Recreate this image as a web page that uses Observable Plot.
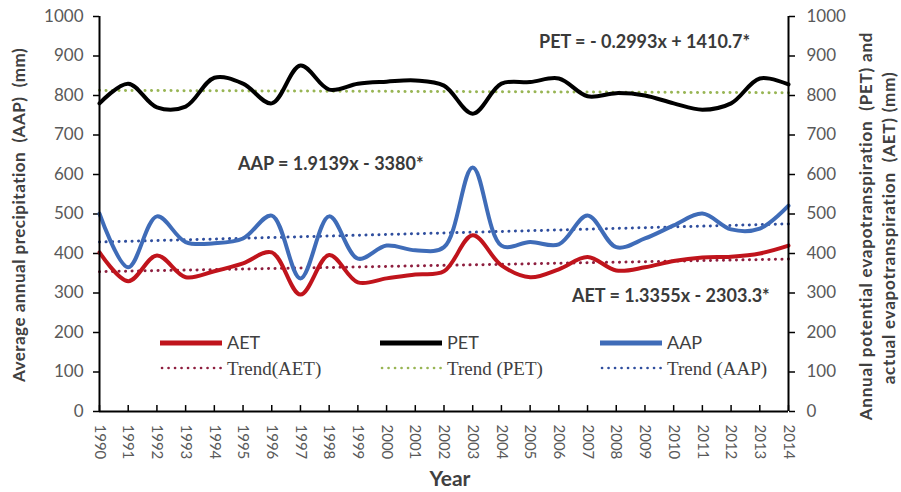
<!DOCTYPE html>
<html><head><meta charset="utf-8">
<script src="https://cdn.jsdelivr.net/npm/d3@7"></script>
<script src="https://cdn.jsdelivr.net/npm/@observablehq/plot@0.6"></script>
<style>body{margin:0;background:#fff;} svg{display:block;}</style>
</head><body><div id="chart"></div>
<script>
const years = [1990,1991,1992,1993,1994,1995,1996,1997,1998,1999,2000,2001,2002,2003,2004,2005,2006,2007,2008,2009,2010,2011,2012,2013,2014];
const pet = [780,830,770,772,845,830,780,876,815,830,835,838,825,754,830,834,843,798,806,800,780,764,780,843,828];
const aap = [501,365,494,429,426,438,496,337,494,387,420,408,416,618,420,429,423,496,416,438,471,501,461,463,521];
const aet = [403,330,395,340,355,375,403,296,396,327,337,347,355,446,370,340,360,391,357,365,381,390,392,400,420];
const trendYears = [1990, 2014];
const petTrend = [813, 807];
const aapTrend = [429, 475];
const aetTrend = [354, 386];
const yTicks = [0,100,200,300,400,500,600,700,800,900,1000];

const equations = [
  {text: "PET = - 0.2993x + 1410.7*", x: 539, y: 42},
  {text: "AAP = 1.9139x - 3380*", x: 238, y: 164},
  {text: "AET = 1.3355x - 2303.3*", x: 572, y: 296}
];
const legendItems = [
  {label: "AET", trend: "Trend(AET)", color: "#c0141c", trendColor: "#8e1f3f", x: 160},
  {label: "PET", trend: "Trend (PET)", color: "#000000", trendColor: "#98b554", x: 380},
  {label: "AAP", trend: "Trend (AAP)", color: "#3f6cb8", trendColor: "#2f4e9e", x: 600}
];

const rows = (vals) => years.map((y, i) => ({year: y, value: vals[i]}));
const trendRows = (vals) => trendYears.map((y, i) => ({year: y, value: vals[i]}));

const dotted = {strokeWidth: 3, strokeDasharray: "0.1,6.4", strokeLinecap: "round"};
const axisFont = {fontSize: 17, fill: "#595959"};

const chart = Plot.plot({
  width: 901, height: 492,
  marginLeft: 99, marginRight: 113, marginTop: 16, marginBottom: 81,
  x: {domain: [1990, 2014]},
  y: {domain: [0, 1000]},
  style: {fontFamily: "Lato, 'Open Sans', sans-serif", background: "white", color: "#595959"},
  marks: [
    Plot.axisY({anchor: "left", ticks: yTicks, tickFormat: d => String(d), tickSize: 6, tickPadding: 10, label: null, ...axisFont, stroke: "black", strokeWidth: 1.5}),
    Plot.axisY({anchor: "right", ticks: yTicks, tickFormat: d => String(d), tickSize: 6, tickPadding: 12, label: null, ...axisFont, stroke: "black", strokeWidth: 1.5}),
    Plot.axisX({ticks: years, tickFormat: d => String(d), tickRotate: 90, tickSize: 0, tickPadding: 13, label: null, fontSize: 15, fill: "#595959"}),
    Plot.ruleX(years, {x: d => d, y1: 0, y2: 15, stroke: "black", strokeWidth: 1.5}),
    Plot.line(trendRows(aetTrend), {x: "year", y: "value", stroke: "#8e1f3f", ...dotted}),
    Plot.line(trendRows(petTrend), {x: "year", y: "value", stroke: "#98b554", ...dotted}),
    Plot.line(trendRows(aapTrend), {x: "year", y: "value", stroke: "#2f4e9e", ...dotted}),
    Plot.line(rows(pet), {x: "year", y: "value", stroke: "#000000", strokeWidth: 4, curve: "catmull-rom"}),
    Plot.line(rows(aap), {x: "year", y: "value", stroke: "#3f6cb8", strokeWidth: 4, curve: "catmull-rom"}),
    Plot.line(rows(aet), {x: "year", y: "value", stroke: "#c0141c", strokeWidth: 4, curve: "catmull-rom"}),
    Plot.ruleX([1990, 2014], {stroke: "black", strokeWidth: 2}),
    Plot.ruleY([0], {stroke: "black", strokeWidth: 2})
  ]
});

const svg = d3.select(chart);
// equations
svg.append("g").attr("text-anchor", "start").selectAll("text").data(equations).join("text")
  .attr("x", d => d.x).attr("y", d => d.y).attr("dy", "0.35em")
  .attr("font-family", "Lato, sans-serif").attr("font-weight", "bold").attr("font-size", 18)
  .attr("fill", "#3a3a3a").text(d => d.text);

// legend
const lg = svg.append("g").attr("text-anchor", "start");
legendItems.forEach(d => {
  lg.append("line").attr("x1", d.x).attr("x2", d.x + 62).attr("y1", 343).attr("y2", 343)
    .attr("stroke", d.color).attr("stroke-width", 5);
  lg.append("text").attr("x", d.x + 67).attr("y", 343).attr("dy", "0.35em")
    .attr("font-family", "Lato, sans-serif").attr("font-size", 18).attr("fill", "#404040").text(d.label);
  lg.append("line").attr("x1", d.x + 2).attr("x2", d.x + 62).attr("y1", 368).attr("y2", 368)
    .attr("stroke", d.trendColor).attr("stroke-width", 2.6).attr("stroke-dasharray", "0.1,6.4").attr("stroke-linecap", "round");
  lg.append("text").attr("x", d.x + 67).attr("y", 368).attr("dy", "0.35em")
    .attr("font-family", "'Liberation Serif', serif").attr("font-size", 19).attr("fill", "#404040").text(d.trend);
});

// axis titles
svg.append("text").attr("x", 450).attr("y", 479).attr("dy", "0.35em").attr("text-anchor", "middle")
  .attr("font-family", "Lato, sans-serif").attr("font-weight", "bold").attr("font-size", 21).attr("fill", "#404040").text("Year");
svg.append("text").attr("transform", "translate(19,215) rotate(-90)").attr("dy", "0.35em").attr("text-anchor", "middle")
  .attr("font-family", "Lato, sans-serif").attr("font-weight", "bold").attr("font-size", 17).attr("letter-spacing", 0.5).attr("fill", "#404040")
  .style("white-space", "pre").text("Average annual precipitation  (AAP)  (mm)");
svg.append("text").attr("transform", "translate(866,226) rotate(-90)").attr("dy", "0.35em").attr("text-anchor", "middle")
  .attr("font-family", "Lato, sans-serif").attr("font-weight", "bold").attr("font-size", 17).attr("letter-spacing", 0.8).attr("fill", "#404040")
  .style("white-space", "pre").text("Annual potential evapotranspiration  (PET) and");
svg.append("text").attr("transform", "translate(889,228) rotate(-90)").attr("dy", "0.35em").attr("text-anchor", "middle")
  .attr("font-family", "Lato, sans-serif").attr("font-weight", "bold").attr("font-size", 17).attr("letter-spacing", 0.8).attr("fill", "#404040")
  .style("white-space", "pre").text("actual evapotranspiration  (AET) (mm)");

document.getElementById("chart").appendChild(chart);
</script>
</body></html>
